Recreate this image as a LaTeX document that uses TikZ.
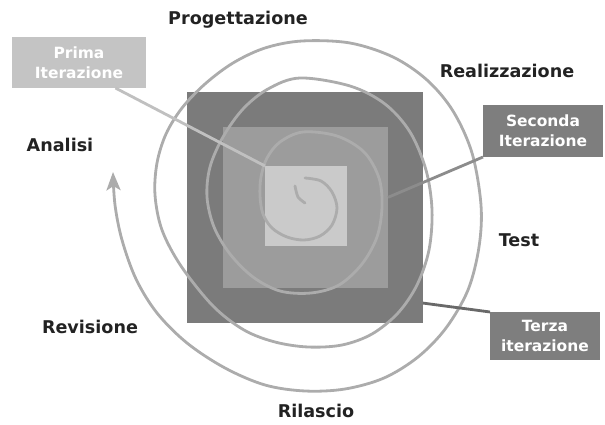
\documentclass[tikz,border=0pt]{standalone}
\usepackage{fontspec}
\setmainfont{DejaVu Sans}
\usepackage{tikz}
\usetikzlibrary{arrows.meta}
\definecolor{sqouter}{RGB}{123,123,123}
\definecolor{sqmiddle}{RGB}{156,156,156}
\definecolor{sqinner}{RGB}{202,202,202}
\definecolor{spiralgray}{RGB}{172,172,172}
\definecolor{boxlight}{RGB}{196,196,196}
\definecolor{boxdark}{RGB}{126,126,126}
\definecolor{leadlight}{RGB}{192,192,192}
\definecolor{leadmid}{RGB}{140,140,140}
\definecolor{leaddark}{RGB}{105,105,105}
\definecolor{labeltext}{RGB}{34,34,34}

\begin{document}
\begin{tikzpicture}[x=0.025cm, y=-0.025cm]
\tikzstyle{every node} = [inner sep=0pt, outer sep=0pt]
\tikzstyle{phase} = [font=\fontsize{12.5}{15}\selectfont\bfseries, text=labeltext]
\tikzstyle{iter} = [font=\fontsize{11}{14.5}\selectfont\bfseries, text=white, align=center]
\tikzstyle{spiral} = [draw=spiralgray, line width=2pt, line cap=round]
\useasboundingbox (0,0) rectangle (605,425);
% squares
\node[fill=sqouter, minimum width=5.9cm, minimum height=5.775cm] (outer) at (305,207.5) {};
\node[fill=sqmiddle, minimum width=4.125cm, minimum height=4.025cm] (middle) at (305.5,207.5) {};
\node[fill=sqinner, minimum width=2.05cm, minimum height=2cm] (inner) at (306,206) {};
% spiral
\draw[spiral] plot[smooth] coordinates {(295,186) (298,197) (305,203)};
\draw[spiral, -{Stealth[length=13pt, width=10pt, inset=3pt]}] plot[smooth, tension=0.55] coordinates {
  (305,178) (321,181) (332,192) (337,208) (332,225) (320,236) (304,240)
  (287,237) (272,228) (263,214) (260,196) (261,177) (267,158) (280,142)
  (303,132) (337,136) (364,152) (379,178) (382,207) (377,237) (362,264)
  (339,285) (311,293) (280,291) (253,277) (230,254) (214,227) (207,197)
  (210,167) (223,137) (243,109) (268,89) (300,78) (350,86) (385,104)
  (410,132) (426,170) (432,210) (429,250) (417,285) (398,313) (372,334)
  (342,345) (308,347) (275,342) (244,330) (213,306) (181,266) (162,230)
  (155,195) (157,163) (166,134) (182,108) (205,84) (233,63) (265,48)
  (302,41) (350,43) (393,57) (427,80) (453,111) (472,153) (481,205)
  (479,247) (468,290) (446,328) (418,357) (384,378) (345,389) (305,391)
  (265,385) (225,368) (187,343) (157,313) (136,279) (122,240) (115,205)
  (113,172)};
% phases
\node[phase] (progettazione) at (238,20) {Progettazione};
\node[phase] (realizzazione) at (507,71) {Realizzazione};
\node[phase] (analisi) at (60,145) {Analisi};
\node[phase] (test) at (519,240) {Test};
\node[phase] (revisione) at (90,327) {Revisione};
\node[phase] (rilascio) at (316,411) {Rilascio};
% iterations
\node[iter, fill=boxlight, minimum width=3.35cm, minimum height=1.275cm] (prima) at (79,62.5) {Prima\\Iterazione};
\node[iter, fill=boxdark, minimum width=3cm, minimum height=1.3cm] (seconda) at (543,131) {Seconda\\Iterazione};
\node[iter, fill=boxdark, minimum width=2.75cm, minimum height=1.2cm] (terza) at (545,336) {Terza\\iterazione};
\foreach \from/\to/\col in {prima.-35/inner.north west/leadlight, seconda.south west/middle.7/leadmid, terza.north west/outer.-39/leaddark}
\draw [draw=\col, line width=2pt] (\from) -- (\to);
\end{tikzpicture}
\end{document}
